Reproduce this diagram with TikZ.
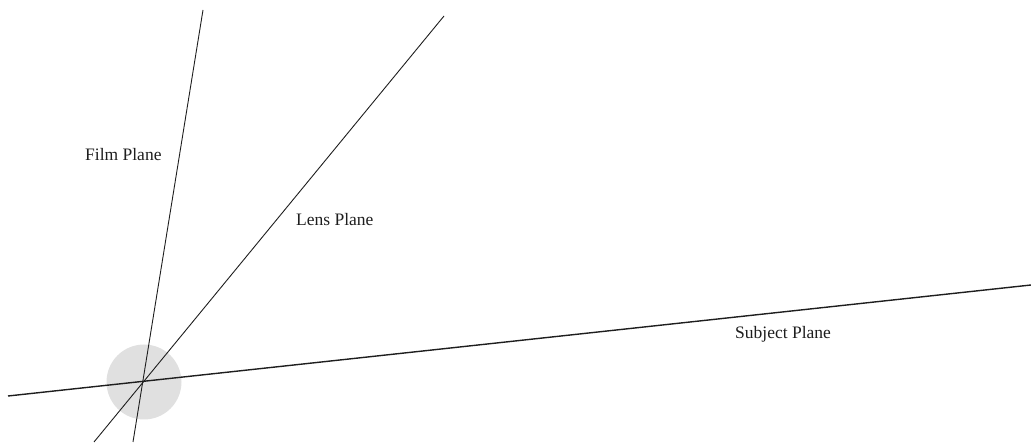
\documentclass[tikz,border=0pt]{standalone}
\usepackage{fontspec}
\setmainfont{Liberation Serif}
\usepackage{tikz}
\usetikzlibrary{
    calc,
    positioning
}
\definecolor{ink}{RGB}{30,30,30}
\definecolor{pivotfill}{RGB}{224,224,224}
\tikzset{
    line cap=round,
    plane/.style={
        draw=ink,
        line width=0.9pt
    },
    subjectplane/.style={
        plane,
        line width=1.4pt
    },
    pivot/.style={
        circle,
        fill=pivotfill,
        draw=none,
        minimum size=75pt,
        inner sep=0pt
    },
    planelabel/.style={
        font=\fontsize{17.5}{20}\selectfont,
        text=ink,
        anchor=base west,
        inner sep=0pt
    }
}
\begin{document}
\begin{tikzpicture}[x=1pt, y=-1pt]
    \useasboundingbox (0,0) rectangle (1031,443);

    % Scheimpflug point
    \node[pivot] (hinge) at (144,382) {};

    % Plane end points
    \coordinate (film top) at (203,10);
    \coordinate (film bottom) at (133,442);
    \coordinate (lens top) at (444,16);
    \coordinate (lens bottom) at (94,442);
    \coordinate (subject left) at (8,396);
    \coordinate (subject right) at (1031,285);

    \draw[plane] (film top) -- (film bottom);
    \draw[plane] (lens top) -- (lens bottom);
    \draw[subjectplane] (subject left) -- (subject right);

    % Labels
    \node[planelabel] (film) at (85,161) {Film Plane};
    \node[planelabel] (lens) at (296,226) {Lens Plane};
    \node[planelabel] (subject) at (735,339) {Subject Plane};

\end{tikzpicture}
\end{document}
